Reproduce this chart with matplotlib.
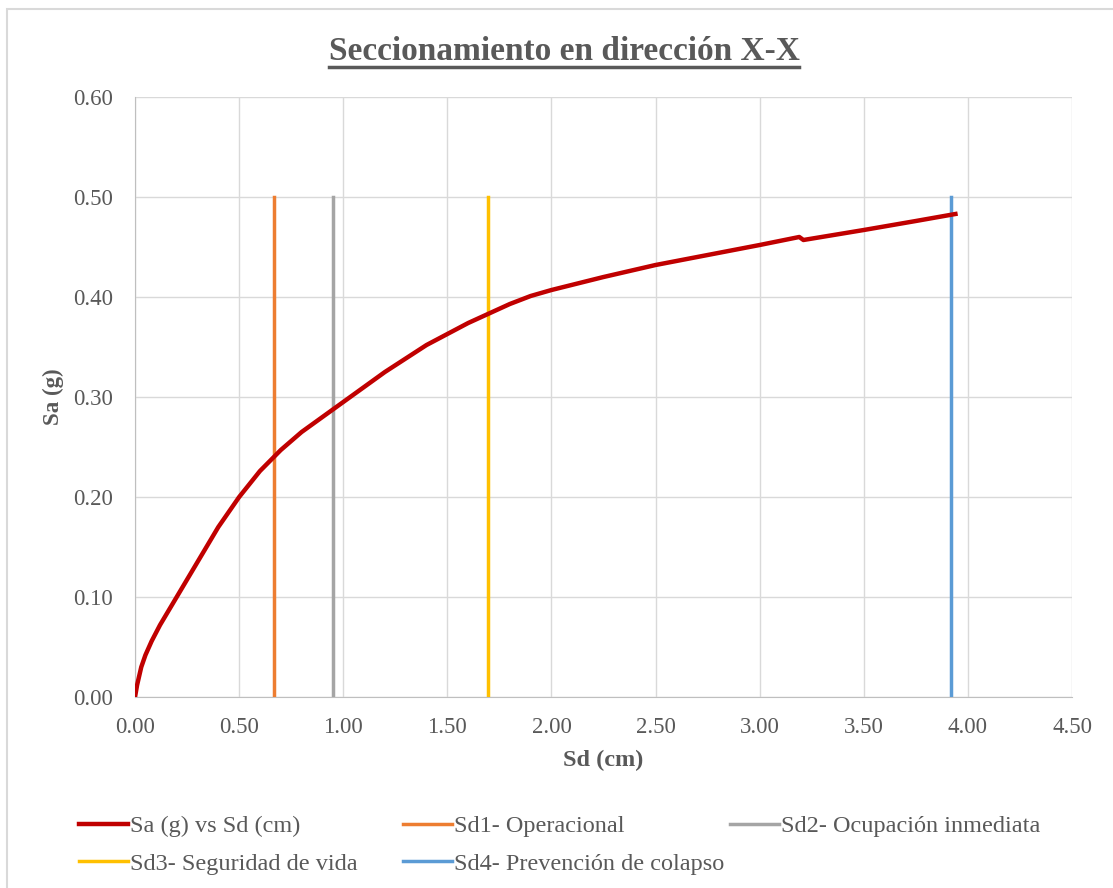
import matplotlib
matplotlib.use("Agg")
import matplotlib.pyplot as plt
from matplotlib.lines import Line2D
from matplotlib.patches import Rectangle

# Curva de capacidad (espectro)
sd = [0.0, 0.01, 0.03, 0.05, 0.08, 0.12, 0.20, 0.30, 0.40, 0.50, 0.60, 0.70,
      0.80, 0.90, 1.00, 1.20, 1.40, 1.60, 1.80, 1.90, 2.00, 2.25, 2.50, 2.75,
      3.00, 3.19, 3.21, 3.50, 3.75, 3.94]
sa = [0.0, 0.012, 0.030, 0.042, 0.056, 0.072, 0.100, 0.135, 0.170, 0.200,
      0.226, 0.247, 0.265, 0.280, 0.295, 0.325, 0.352, 0.374, 0.393, 0.401,
      0.407, 0.420, 0.432, 0.442, 0.452, 0.460, 0.457, 0.467, 0.476, 0.483]

# Puntos de desempeño
sd_levels = [0.668, 0.951, 1.695, 3.92]
level_names = ["Sd1- Operacional", "Sd2- Ocupación inmediata",
               "Sd3- Seguridad de vida", "Sd4- Prevención de colapso"]
level_colors = ["#ED7D31", "#A5A5A5", "#FFC000", "#5B9BD5"]
level_top = 0.5

plt.rcParams['font.family'] = ['Liberation Serif', 'DejaVu Serif']
gray = "#595959"
W, H = 1113, 888

fig = plt.figure(figsize=(W / 100, H / 100), dpi=100)
ax = fig.add_axes([0.1213, 0.215, 0.8419, 0.6758])

ax.plot(sd, sa, color="#C00000", lw=3.2, zorder=5, label="Sa (g) vs Sd (cm)")
for x, name, c in zip(sd_levels, level_names, level_colors):
    ax.plot([x, x], [0, level_top], color=c, lw=2.5, zorder=4, label=name)

ax.set_xlim(0, 4.5)
ax.set_ylim(0, 0.6)
ax.set_xticks([i * 0.5 for i in range(10)])
ax.set_yticks([i * 0.1 for i in range(7)])
ax.xaxis.set_major_formatter(lambda v, p: f"{v:.2f}")
ax.yaxis.set_major_formatter(lambda v, p: f"{v:.2f}")
ax.grid(True, color="#D9D9D9", lw=1)
ax.set_axisbelow(True)
for s in ["top", "right"]:
    ax.spines[s].set_visible(False)
for s in ["left", "bottom"]:
    ax.spines[s].set_color("#BFBFBF")
ax.tick_params(length=0, labelsize=16.5, colors=gray)
ax.tick_params(axis="y", pad=16)
ax.tick_params(axis="x", pad=14)

ax.set_xlabel("Sd (cm)", fontsize=17.5, fontweight="bold", color=gray, labelpad=9)
ax.set_ylabel("Sa (g)", fontsize=16.5, fontweight="bold", color=gray, labelpad=6)

title = fig.text(0.5067, 0.932, "Seccionamiento en dirección X-X", ha="center",
                 va="baseline", fontsize=24, fontweight="bold", color=gray)

# Subrayado del título
fig.canvas.draw()
bb = title.get_window_extent().transformed(fig.transFigure.inverted())
fig.add_artist(Line2D([bb.x0, bb.x1], [0.925, 0.925], color=gray, lw=2.5,
                      transform=fig.transFigure))

# Marco del gráfico
fig.add_artist(Rectangle((0.006, -0.01), 1.0, 1.0, fill=False,
                         edgecolor="#D9D9D9", lw=1.5, transform=fig.transFigure))

# Leyenda: tres columnas, llenadas por filas
handles, labels = ax.get_legend_handles_labels()
columns = [[0, 3], [1, 4], [2]]
col_x = [79, 403, 730]
for idx, cx in zip(columns, col_x):
    leg = fig.legend([handles[i] for i in idx], [labels[i] for i in idx],
                     loc="upper left", bbox_to_anchor=(cx / W, 1 - 815 / H),
                     frameon=False, fontsize=17.5, handlelength=2.0,
                     handletextpad=0.1, labelspacing=0.65, borderpad=0,
                     borderaxespad=0)
    for t in leg.get_texts():
        t.set_color(gray)

fig.savefig("out.png", dpi=100)
